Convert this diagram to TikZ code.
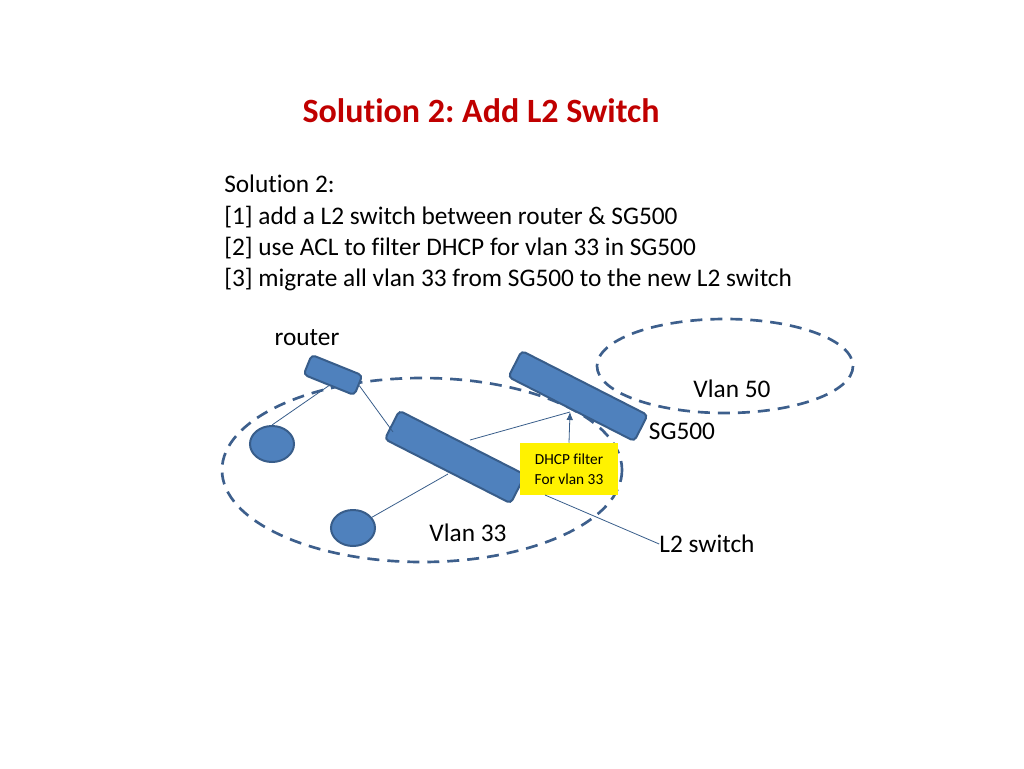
\documentclass[tikz,border=0pt]{standalone}
\usepackage{fontspec}
\setmainfont{Carlito}[Ligatures=NoCommon]
\usetikzlibrary{shapes.geometric,arrows.meta}
\definecolor{bfill}{HTML}{4F81BD}
\definecolor{bdraw}{HTML}{385D8A}
\definecolor{dsh}{HTML}{3D5F8C}
\definecolor{ttl}{HTML}{C00000}
\frenchspacing
\begin{document}
\begin{tikzpicture}[x=0.75pt,y=-0.75pt,
  dev/.style={draw=bdraw,fill=bfill,line width=1.5pt,rounded corners=3pt,minimum height=#1,inner sep=0pt},
  host/.style={draw=bdraw,fill=bfill,line width=1.5pt,ellipse,minimum width=33pt,minimum height=27pt,inner sep=0pt},
  zone/.style={draw=dsh,line width=2pt,dash pattern=on 9pt off 6pt},
  link/.style={draw=bdraw,line width=0.6pt},
  lbl/.style={font=\fontsize{19}{23}\selectfont,inner sep=0pt}]
\useasboundingbox (0,0) rectangle (1024,768);
\node[font=\fontsize{25.5}{30}\selectfont\bfseries,text=ttl] (title) at (481,111) {Solution 2: Add L2 Switch};
\node[lbl,anchor=north west,align=left,font=\fontsize{19}{23.4}\selectfont] (body) at (224,175)
 {Solution 2:\\{}[1] add a L2 switch between router \& SG500\\{}[2] use ACL to filter DHCP for vlan 33 in SG500\\{}[3] migrate all vlan 33 from SG500 to the new L2 switch};
\draw[zone] (422,470) ellipse [x radius=200,y radius=92];
\draw[zone] (725,366) ellipse [x radius=128,y radius=47];
\node[dev=16pt,minimum width=41pt,rotate=-22] (router) at (333,375) {};
\node[dev=22pt,minimum width=106pt,rotate=-27] (sg) at (578,396) {};
\node[dev=24pt,minimum width=106pt,rotate=-27] (l2) at (455,457) {};
\node[host] (h1) at (272,444) {};
\node[host] (h2) at (353,528) {};
\coordinate (sgin) at (570,412);
\coordinate (l2a) at (470,440);
\coordinate (l2b) at (448,474);
\coordinate (l2c) at (545,495);
\draw[link] (router.south) -- (h1.north);
\draw[link] (router.east) -- (393,432);
\draw[link] (l2a) -- (sgin);
\draw[link] (h2) -- (l2b);
\node[fill=yellow,minimum width=73pt,minimum height=39pt,align=center,inner sep=0pt,font=\fontsize{11.5}{15}\selectfont] (dhcp) at (569,469) {DHCP filter\\For vlan 33};
\draw[link,-{Latex[length=6pt,width=5pt]}] (dhcp.north) -- (sgin);
\node[lbl] (router-l) at (307,338) {router};
\node[lbl] (v50) at (732,389) {Vlan 50};
\node[lbl] (sgl) at (682,431) {SG500};
\node[lbl] (v33) at (468,533) {Vlan 33};
\node[lbl] (l2l) at (707,544) {L2 switch};
\draw[link] (l2c) -- (l2l.west);
\end{tikzpicture}
\end{document}
